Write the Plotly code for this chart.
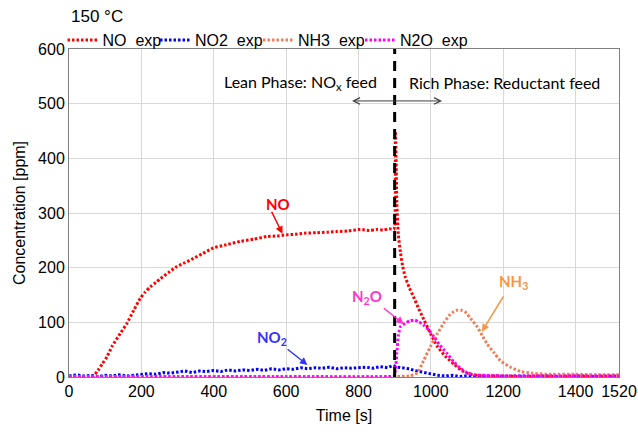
import plotly.graph_objects as go

# ---- measured concentrations [ppm] vs time [s] at 150 °C ----
t_no = [0, 40, 60, 67, 80, 92, 105, 120, 142, 160, 179, 197, 210, 225, 240, 253,
        275, 298, 320, 344, 370, 399, 435, 473, 510, 547, 575, 600, 625, 650, 685,
        715, 740, 770, 805, 830, 850, 870, 885, 897, 900, 902, 904, 906, 910, 916,
        922, 929, 940, 952, 965, 980, 1000, 1017, 1040, 1063, 1085, 1109, 1130,
        1150, 1200, 1250, 1300, 1350, 1400, 1450, 1520]
no = [0, 0, 1, 2, 12, 24, 37, 57, 80, 98, 122, 144, 155, 165, 173, 180,
      191, 202, 209, 217, 226, 236, 242, 248, 252, 257, 258, 260, 261, 263, 264,
      265, 266, 267, 270, 268, 270, 269, 271, 270, 275, 449, 400, 320, 262, 228,
      203, 184, 164, 147, 127, 106, 78, 57, 38, 24, 12, 5, 3,
      2, 2, 1, 2, 1, 2, 1, 2]

t_no2 = [0, 20, 40, 60, 80, 100, 120, 140, 160, 180, 200, 220, 240, 260, 280, 300,
         320, 340, 360, 380, 400, 420, 440, 460, 480, 500, 520, 540, 560, 580, 600,
         620, 640, 660, 680, 700, 720, 740, 760, 780, 800, 820, 840, 860, 880, 895,
         910, 925, 940, 955, 970, 985, 1000, 1020, 1040, 1060, 1080, 1100, 1120,
         1140, 1160, 1180, 1200, 1240, 1280, 1320, 1360, 1400, 1440, 1480, 1520]
no2 = [2, 4, 2, 3, 1, 3, 2, 4, 2, 3, 4, 6, 5, 8, 7, 9,
       11, 8, 11, 10, 12, 10, 13, 11, 13, 12, 14, 12, 15, 13, 15,
       14, 17, 15, 17, 16, 18, 15, 17, 16, 17, 18, 16, 19, 17, 21,
       18, 17, 15, 12, 10, 7, 5, 3, 2, 3, 1, 2, 1,
       2, 1, 2, 1, 2, 1, 2, 1, 2, 1, 2, 1]

t_nh3 = [0, 300, 600, 900, 940, 962, 980, 999, 1017, 1035, 1050, 1062, 1072, 1084,
         1095, 1110, 1128, 1142, 1155, 1175, 1192, 1220, 1248, 1280, 1320, 1400,
         1460, 1520]
nh3 = [1, 1, 1, 1, 2, 7, 30, 56, 78, 98, 112, 119, 122, 122,
       119, 107, 92, 76, 61, 44, 30, 18, 10, 7, 5, 5, 4, 4]

t_n2o = [0, 300, 600, 880, 898, 902, 906, 910, 916, 929, 943, 955, 967, 980, 994,
         1008, 1025, 1045, 1063, 1082, 1100, 1120, 1150, 1200, 1300, 1400, 1520]
n2o = [0.5, 0.5, 0.5, 0.5, 2, 12, 43, 75, 92, 98, 103, 104, 101, 95, 86,
       74, 58, 43, 28, 16, 8, 4, 3, 2, 2, 2, 2]

series_names = ["NO\u00a0\u00a0exp", "NO2\u00a0\u00a0exp", "NH3\u00a0\u00a0exp", "N2O\u00a0\u00a0exp"]
series_colors = ["#FF0000", "#0000FF", "#EE7E5A", "#FF00FF"]
series_shapes = ["spline", "linear", "spline", "spline"]
series_t = [t_no, t_no2, t_nh3, t_n2o]
series_y = [no, no2, nh3, n2o]

x_ticks = [0, 200, 400, 600, 800, 1000, 1200, 1400, 1520]
y_ticks = [0, 100, 200, 300, 400, 500, 600]

switch_time = 900

SANS = "Arial, Liberation Sans, sans-serif"
NOTE = "Lato"

# one legend box per series so the entries sit in a single row across the top
legend_ids = ["legend", "legend2", "legend3", "legend4"]
legend_x = [-0.0118, 0.1564, 0.3436, 0.5291]

fig = go.Figure()
for name, color, shp, tx, ty, lid in zip(series_names, series_colors, series_shapes,
                                         series_t, series_y, legend_ids):
    fig.add_trace(go.Scatter(
        x=tx, y=ty, name=name, mode="lines", legend=lid,
        line=dict(color=color, width=3, dash="2.5px,2px", shape=shp, smoothing=0.6),
    ))

# lean/rich switch marker
fig.add_shape(type="line", x0=switch_time, x1=switch_time, y0=0, y1=600,
              xref="x", yref="y", line=dict(color="black", width=3, dash="10px,7px"))

fig.add_annotation(x=639, y=538, text="Lean Phase: NO<sub>x</sub> feed", showarrow=False,
                   font=dict(family=NOTE, size=16, color="black"))
fig.add_annotation(x=1203, y=538, text="Rich Phase: Reductant feed", showarrow=False,
                   font=dict(family=NOTE, size=16, color="black"))
# double-headed phase arrow
fig.add_annotation(x=1031, y=505, ax=778, ay=505, axref="x", ayref="y",
                   text="", showarrow=True, arrowhead=5, startarrowhead=5,
                   arrowside="end+start", arrowwidth=1, arrowsize=1.3,
                   arrowcolor="#404040")

# species labels with pointers
species_labels = [
    ("<b>NO</b>", 578, 317, 590, 262, "#FF0000", 558, 305),
    ("<b>NO<sub>2</sub></b>", 561, 71, 659, 22, "#3333FF", 600, 53),
    ("<b>N<sub>2</sub>O</b>", 823, 147, 925, 97, "#FF33CC", 866, 128),
    ("<b>NH<sub>3</sub></b>", 1229, 174, 1141, 83, "#F79646", 1203, 150),
]
for txt, tx, ty, hx, hy, col, sx, sy in species_labels:
    fig.add_annotation(x=tx, y=ty, text=txt, showarrow=False,
                       font=dict(family=NOTE, size=15, color=col))
    fig.add_annotation(x=hx, y=hy, ax=sx, ay=sy, axref="x", ayref="y",
                       text="", showarrow=True, arrowhead=2, arrowwidth=1.5,
                       arrowsize=1, arrowcolor=col)

fig.add_annotation(x=0, y=1.0976, xref="paper", yref="paper", xanchor="left", yanchor="middle",
                   text="150 °C", showarrow=False,
                   font=dict(family=SANS, size=17, color="black"))

axis_common = dict(
    showgrid=True, gridcolor="#D9D9D9", gridwidth=1,
    showline=True, linecolor="#808080", linewidth=1, mirror=True,
    zeroline=False, ticks="", automargin=False,
    tickfont=dict(family=SANS, size=16, color="black"),
)

legend_style = dict(orientation="h", y=1.0274, xanchor="left", yanchor="middle",
                    itemwidth=30, font=dict(family=SANS, size=16, color="black"),
                    bgcolor="rgba(0,0,0,0)", borderwidth=0)

fig.update_layout(
    width=638, height=432,
    margin=dict(l=69, r=19, t=49, b=55),
    paper_bgcolor="white", plot_bgcolor="white",
    xaxis=dict(range=[0, 1520], tickvals=x_ticks,
               title=dict(text="Time [s]", standoff=10,
                          font=dict(family=SANS, size=16, color="black")),
               **axis_common),
    yaxis=dict(range=[0, 600], tickvals=y_ticks,
               title=dict(text="Concentration [ppm]", standoff=8,
                          font=dict(family=SANS, size=16, color="black")),
               **axis_common),
    showlegend=True,
    legend=dict(x=legend_x[0], **legend_style),
    legend2=dict(x=legend_x[1], **legend_style),
    legend3=dict(x=legend_x[2], **legend_style),
    legend4=dict(x=legend_x[3], **legend_style),
)

fig.write_html("out.html")
